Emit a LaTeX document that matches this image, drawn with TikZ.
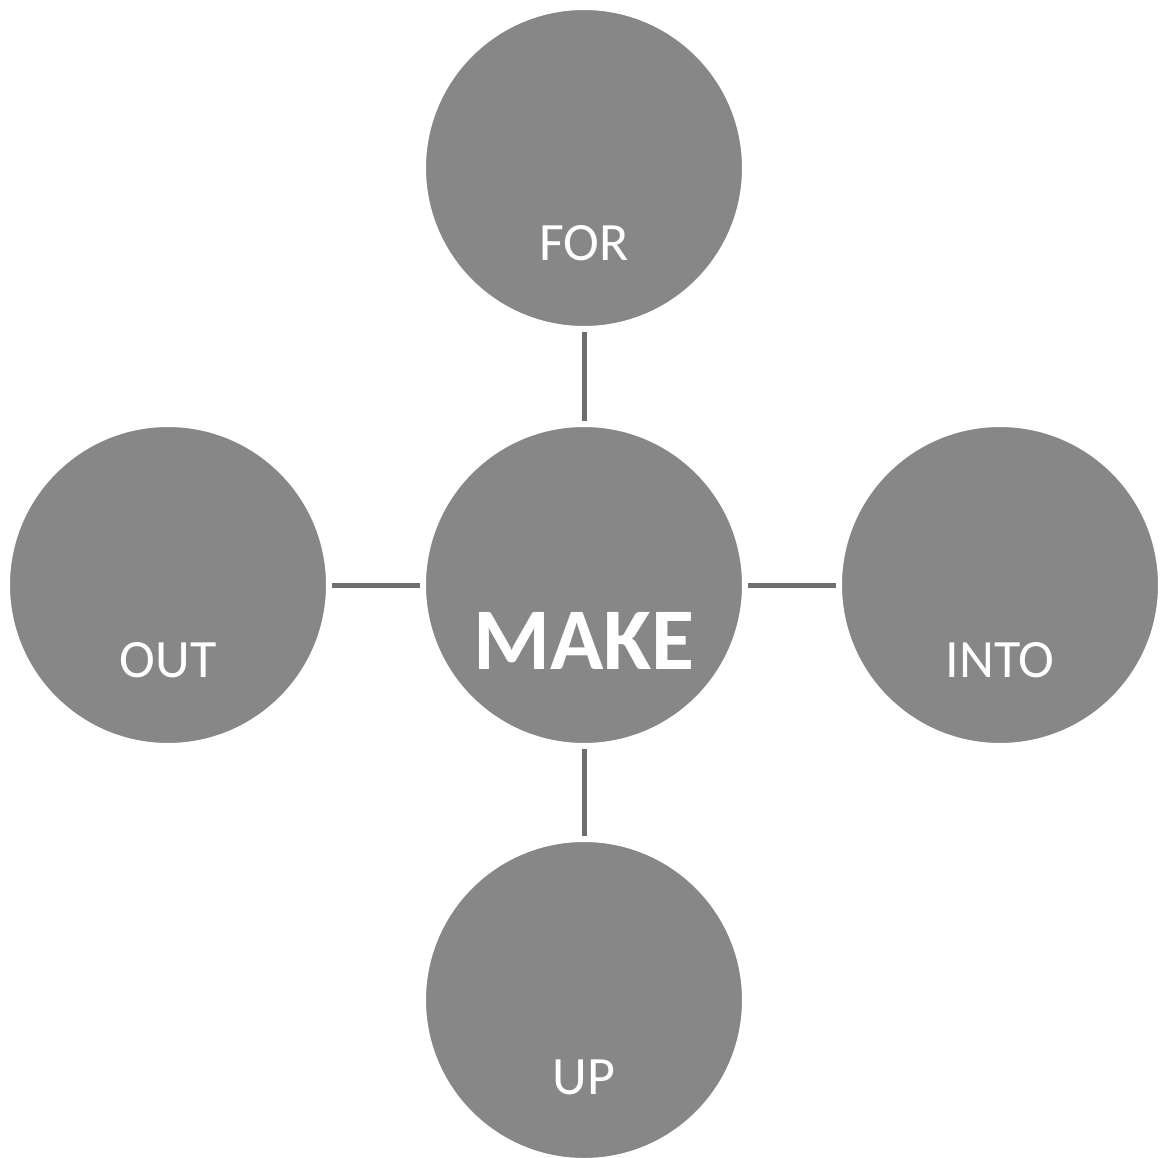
\documentclass[tikz,border=0pt]{standalone}
\usepackage{fontspec}
\setmainfont{Carlito}
\definecolor{discfill}{HTML}{878787}
\definecolor{linkgray}{HTML}{6E6E6E}
\begin{document}
\begin{tikzpicture}[x=1pt,y=-1pt,
  disc/.style={circle, fill=discfill, draw=white, line width=3pt, minimum size=319pt, inner sep=0pt},
  word/.style={text=white, font=\fontsize{54}{60}\selectfont, anchor=center},
  link/.style={draw=linkgray, line width=5pt}]
  \useasboundingbox (0,0) rectangle (1162,1158);
  % five discs
  \node[disc] (make) at (584,585) {};
  \node[disc] (for)  at (584,168) {};
  \node[disc] (out)  at (168,585) {};
  \node[disc] (into) at (1000,585) {};
  \node[disc] (up)   at (584,1000) {};
  % labels sit below each disc centre
  \node[word, font=\bfseries\fontsize{88}{96}\selectfont] (makel) at (584,641) {MAKE};
  \node[word] (forl)  at (584,243) {FOR};
  \node[word] (outl)  at (168,660) {OUT};
  \node[word] (intol) at (1000,660) {INTO};
  \node[word] (upl)   at (584,1077) {UP};
  % spokes with a small gap to each disc
  \draw[link] ([yshift=-3pt]for.south) -- ([yshift=3pt]make.north);
  \draw[link] ([yshift=-3pt]make.south) -- ([yshift=3pt]up.north);
  \draw[link] ([xshift=3pt]out.east) -- ([xshift=-3pt]make.west);
  \draw[link] ([xshift=3pt]make.east) -- ([xshift=-3pt]into.west);
\end{tikzpicture}
\end{document}
